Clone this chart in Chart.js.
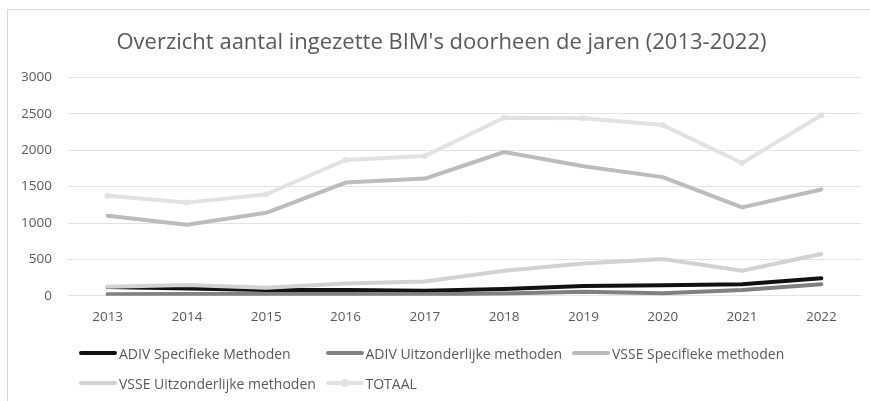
<!DOCTYPE html>
<html lang="nl">
<head>
  <meta charset="UTF-8" />
  <title>Overzicht aantal ingezette BIM's</title>
  <script src="https://cdn.jsdelivr.net/npm/chart.js"></script>
  <style>
    html, body { margin: 0; padding: 0; background: #fff; overflow: hidden; }
    .wrap { position: relative; width: 870px; height: 401px; }
    canvas { position: absolute; left: 0; top: 0; }
    /* Excel-style chart frame (only left and top edges are visible in the crop) */
    .frame {
      position: absolute; left: 7px; top: 9px; width: 900px; height: 420px;
      border: 1px solid #d9d9d9; pointer-events: none;
    }
    .legend {
      position: absolute; left: 79px; top: 338px;
      display: grid; grid-template-columns: repeat(3, 246.5px);
      grid-auto-rows: 30px;
      font-family: "Open Sans", sans-serif;
      font-size: 14px; color: #595959;
    }
    .item { display: flex; align-items: center; white-space: nowrap; }
    .swatch { position: relative; flex: none; width: 38px; height: 4px; border-radius: 2px; margin-right: 2px; }
    .dot { position: absolute; left: 15px; top: -2px; width: 8px; height: 8px; border-radius: 50%; }
  </style>
</head>
<body>
  <div class="wrap">
    <canvas id="chart" width="870" height="401"></canvas>
    <div class="frame"></div>
    <div class="legend" id="legend"></div>
  </div>

  <script>
    const years = ['2013', '2014', '2015', '2016', '2017', '2018', '2019', '2020', '2021', '2022'];

    const adivSpecifiek   = [120, 100, 80, 80, 70, 95, 135, 145, 160, 240];
    const adivUitzonderl  = [20, 25, 25, 25, 20, 30, 55, 35, 80, 160];
    const vsseSpecifiek   = [1100, 975, 1140, 1555, 1610, 1975, 1780, 1630, 1215, 1460];
    const vsseUitzonderl  = [125, 150, 110, 170, 195, 345, 445, 505, 345, 575];
    const totaal          = [1375, 1280, 1395, 1865, 1920, 2445, 2440, 2345, 1825, 2480];

    const seriesNames  = ['ADIV Specifieke Methoden', 'ADIV Uitzonderlijke methoden', 'VSSE Specifieke methoden', 'VSSE Uitzonderlijke methoden', 'TOTAAL'];
    const seriesColors = ['#111111', '#808080', '#bcbcbc', '#d2d2d2', '#e2e2e2'];
    const seriesData   = [adivSpecifiek, adivUitzonderl, vsseSpecifiek, vsseUitzonderl, totaal];

    const yTicks = [0, 500, 1000, 1500, 2000, 2500, 3000];

    const datasets = seriesNames.map((name, i) => ({
      label: name,
      data: seriesData[i],
      borderColor: seriesColors[i],
      backgroundColor: seriesColors[i],
      borderWidth: 4,
      borderCapStyle: 'round',
      borderJoinStyle: 'round',
      tension: 0,
      pointRadius: name === 'TOTAAL' ? 3 : 0,
      pointBorderWidth: 0,
      order: seriesNames.length - i // later series drawn on top, like Excel
    }));

    new Chart(document.getElementById('chart'), {
      type: 'line',
      data: { labels: years, datasets },
      options: {
        responsive: false,
        animation: false,
        layout: { padding: { top: 20, left: 22, right: 9, bottom: 63 } },
        plugins: {
          legend: { display: false },
          tooltip: { enabled: false },
          title: {
            display: true,
            text: "Overzicht aantal ingezette BIM's doorheen de jaren (2013-2022)",
            color: '#595959',
            font: { family: '"Open Sans", sans-serif', size: 22, weight: 'normal' },
            padding: { top: 10, bottom: 21 }
          }
        },
        scales: {
          x: {
            offset: true,
            grid: { display: false, drawTicks: false },
            border: { display: false },
            ticks: {
              color: '#595959',
              padding: 13,
              font: { family: '"Open Sans", sans-serif', size: 13.5 }
            }
          },
          y: {
            min: 0,
            max: 3000,
            afterBuildTicks: axis => { axis.ticks = yTicks.map(v => ({ value: v })); },
            afterFit: axis => { axis.width = 46; },
            grid: { color: '#e3e3e3', lineWidth: 1, drawTicks: false },
            border: { display: false },
            ticks: {
              color: '#595959',
              padding: 16,
              callback: v => String(v),
              font: { family: '"Open Sans", sans-serif', size: 13.5 }
            }
          }
        }
      }
    });

    // legend laid out in fixed columns like the Excel original
    const legend = document.getElementById('legend');
    seriesNames.forEach((name, i) => {
      const item = document.createElement('div');
      item.className = 'item';
      const sw = document.createElement('span');
      sw.className = 'swatch';
      sw.style.background = seriesColors[i];
      if (name === 'TOTAAL') {
        const dot = document.createElement('span');
        dot.className = 'dot';
        dot.style.background = seriesColors[i];
        sw.appendChild(dot);
      }
      const txt = document.createElement('span');
      txt.textContent = name;
      item.appendChild(sw);
      item.appendChild(txt);
      legend.appendChild(item);
    });
  </script>
</body>
</html>
